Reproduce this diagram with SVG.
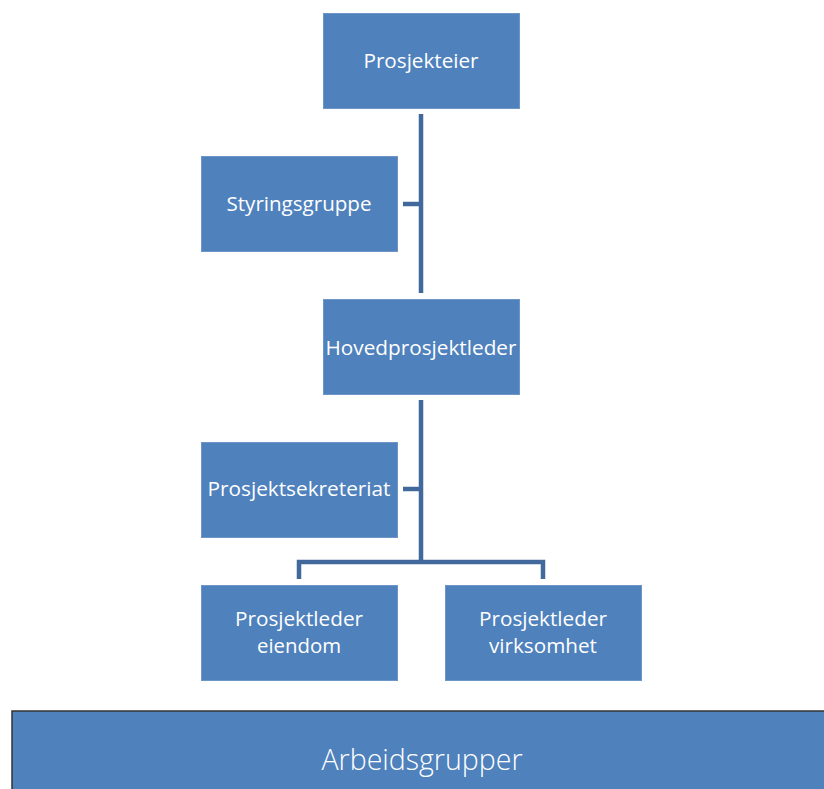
<svg xmlns="http://www.w3.org/2000/svg" width="824" height="789" viewBox="0 0 824 789">
<style>
.box{fill:#4F81BD;stroke:#6D95C8;stroke-width:1}
.t{font-family:"Open Sans","Liberation Sans",sans-serif;font-size:19.5px;fill:#fff;text-anchor:middle}
.big{font-family:"Open Sans","Liberation Sans",sans-serif;font-size:29px;font-weight:300;fill:#fff;text-anchor:middle}
.c{fill:none;stroke:#41699C;stroke-width:4.5}
</style>
<rect width="824" height="789" fill="#fff"/>
<g id="connectors">
<path class="c" d="M421 114V293"/>
<path class="c" d="M403 204H421"/>
<path class="c" d="M421 400V562"/>
<path class="c" d="M403 489H421"/>
<path class="c" d="M299 579V562H543V579"/>
</g>
<g id="prosjekteier"><rect class="box" x="323.5" y="13.5" width="196" height="95"/><text class="t" x="421" y="68" textLength="115" lengthAdjust="spacingAndGlyphs">Prosjekteier</text></g>
<g id="styringsgruppe"><rect class="box" x="201.5" y="156.5" width="196" height="95"/><text class="t" x="299" y="211" textLength="145" lengthAdjust="spacingAndGlyphs">Styringsgruppe</text></g>
<g id="hovedprosjektleder"><rect class="box" x="323.5" y="299.5" width="196" height="95"/><text class="t" x="421" y="355" textLength="191" lengthAdjust="spacingAndGlyphs">Hovedprosjektleder</text></g>
<g id="prosjektsekreteriat"><rect class="box" x="201.5" y="442.5" width="196" height="95"/><text class="t" x="299" y="496" textLength="183" lengthAdjust="spacingAndGlyphs">Prosjektsekreteriat</text></g>
<g id="pl-eiendom"><rect class="box" x="201.5" y="585.5" width="196" height="95"/><text class="t" x="299" y="626" textLength="128" lengthAdjust="spacingAndGlyphs">Prosjektleder</text><text class="t" x="299" y="653" textLength="84" lengthAdjust="spacingAndGlyphs">eiendom</text></g>
<g id="pl-virksomhet"><rect class="box" x="445.5" y="585.5" width="196" height="95"/><text class="t" x="543" y="626" textLength="128" lengthAdjust="spacingAndGlyphs">Prosjektleder</text><text class="t" x="543" y="653" textLength="108" lengthAdjust="spacingAndGlyphs">virksomhet</text></g>
<g id="arbeidsgrupper"><rect x="12" y="711" width="820" height="90" fill="#4F81BD" stroke="#333" stroke-width="1.5"/><text class="big" x="422" y="770" textLength="201" lengthAdjust="spacingAndGlyphs">Arbeidsgrupper</text></g>
</svg>
